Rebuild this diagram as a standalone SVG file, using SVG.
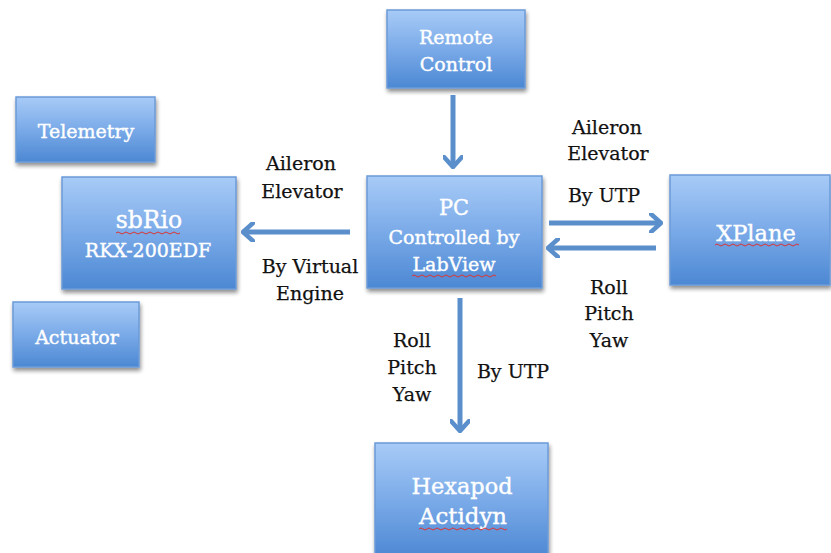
<svg xmlns="http://www.w3.org/2000/svg" width="831" height="553" viewBox="0 0 831 553">
<defs>
<linearGradient id="g" x1="0" y1="0" x2="0" y2="1">
<stop offset="0" stop-color="#a8cbf7"/>
<stop offset="0.5" stop-color="#7aaae8"/>
<stop offset="1" stop-color="#4c88d3"/>
</linearGradient>
<filter id="sh" x="-10%" y="-10%" width="130%" height="130%">
<feGaussianBlur in="SourceAlpha" stdDeviation="2"/>
<feOffset dx="1" dy="3" result="b"/>
<feComponentTransfer><feFuncA type="linear" slope="0.45"/></feComponentTransfer>
<feMerge><feMergeNode/><feMergeNode in="SourceGraphic"/></feMerge>
</filter>
<marker id="ah" viewBox="0 0 14 20" refX="12" refY="10" markerWidth="14" markerHeight="20" markerUnits="userSpaceOnUse" orient="auto">
<polyline points="2,1 12,10 2,19" fill="none" stroke="#5a8fcc" stroke-width="4.5" stroke-linecap="round" stroke-linejoin="round"/>
</marker>
</defs>
<style>
.box{fill:url(#g);stroke:#6b9bd8;stroke-width:1.5;filter:url(#sh)}
.nt{font-family:"DejaVu Serif","Liberation Serif",serif;fill:#fff;stroke:#fff;stroke-width:0.4;text-anchor:middle;font-size:19px}
.lb{font-family:"DejaVu Serif","Liberation Serif",serif;fill:#111;stroke:#111;stroke-width:0.25;text-anchor:middle;font-size:19px}
.ar{stroke:#5a8fcc;stroke-width:5;fill:none;marker-end:url(#ah)}
.sq{stroke:#d33;stroke-width:1;fill:none}
</style>
<rect width="831" height="553" fill="#fff"/>
<g id="remote">
<rect class="box" x="387" y="10" width="138" height="78"/>
<text class="nt" x="456" y="44">Remote</text>
<text class="nt" x="456" y="71">Control</text>
</g>
<g id="telemetry">
<rect class="box" x="16" y="97" width="139" height="65"/>
<text class="nt" x="86" y="138">Telemetry</text>
</g>
<g id="sbrio">
<rect class="box" x="62" y="177" width="174" height="112"/>
<text class="nt" x="149" y="228" style="font-size:23.5px">sbRio</text>
<path class="sq" d="M116,233 q2,-2 4,0 t4,0 t4,0 t4,0 t4,0 t4,0 t4,0 t4,0 t4,0 t4,0 t4,0 t4,0 t4,0 t4,0 t4,0 t4,0"/>
<text class="nt" x="148" y="257">RKX-200EDF</text>
</g>
<g id="actuator">
<rect class="box" x="13" y="302" width="126" height="65"/>
<text class="nt" x="77" y="344">Actuator</text>
</g>
<g id="pc">
<rect class="box" x="367" y="176" width="175" height="112"/>
<text class="nt" x="454" y="215" style="font-size:23px" textLength="30" lengthAdjust="spacingAndGlyphs">PC</text>
<text class="nt" x="454" y="244">Controlled by</text>
<text class="nt" x="454" y="271">LabView</text>
<path class="sq" d="M412,276 q2,-2 4,0 t4,0 t4,0 t4,0 t4,0 t4,0 t4,0 t4,0 t4,0 t4,0 t4,0 t4,0 t4,0 t4,0 t4,0 t4,0 t4,0 t4,0 t4,0 t4,0 t4,0"/>
</g>
<g id="xplane">
<rect class="box" x="670" y="175" width="160" height="110"/>
<text class="nt" x="756" y="241" style="font-size:22.5px">XPlane</text>
<path class="sq" d="M715,245 q2,-2 4,0 t4,0 t4,0 t4,0 t4,0 t4,0 t4,0 t4,0 t4,0 t4,0 t4,0 t4,0 t4,0 t4,0 t4,0 t4,0 t4,0 t4,0 t4,0 t4,0 t4,0"/>
</g>
<g id="hexapod">
<rect class="box" x="375" y="443" width="173" height="115"/>
<text class="nt" x="462" y="494" style="font-size:23px" textLength="101" lengthAdjust="spacingAndGlyphs">Hexapod</text>
<text class="nt" x="463" y="524" style="font-size:23px" textLength="88" lengthAdjust="spacingAndGlyphs">Actidyn</text>
<path class="sq" d="M419,529 q2,-2 4,0 t4,0 t4,0 t4,0 t4,0 t4,0 t4,0 t4,0 t4,0 t4,0 t4,0 t4,0 t4,0 t4,0 t4,0 t4,0 t4,0 t4,0 t4,0 t4,0 t4,0 t4,0"/>
</g>
<g id="connectors">
<line class="ar" x1="453" y1="95" x2="453" y2="167"/>
<line class="ar" x1="350" y1="232" x2="243" y2="232"/>
<line class="ar" x1="549" y1="223" x2="661" y2="223"/>
<line class="ar" x1="656" y1="248" x2="548" y2="248"/>
<line class="ar" x1="460" y1="298" x2="460" y2="431"/>
</g>
<g id="labels">
<text class="lb" x="301" y="170">Aileron</text>
<text class="lb" x="302" y="198">Elevator</text>
<text class="lb" x="310" y="273">By Virtual</text>
<text class="lb" x="310" y="300">Engine</text>
<text class="lb" x="607" y="134">Aileron</text>
<text class="lb" x="608" y="160">Elevator</text>
<text class="lb" x="604" y="202">By UTP</text>
<text class="lb" x="609" y="294">Roll</text>
<text class="lb" x="609" y="320">Pitch</text>
<text class="lb" x="609" y="347">Yaw</text>
<text class="lb" x="412" y="347">Roll</text>
<text class="lb" x="412" y="374">Pitch</text>
<text class="lb" x="412" y="401">Yaw</text>
<text class="lb" x="513" y="378">By UTP</text>
</g>
</svg>
